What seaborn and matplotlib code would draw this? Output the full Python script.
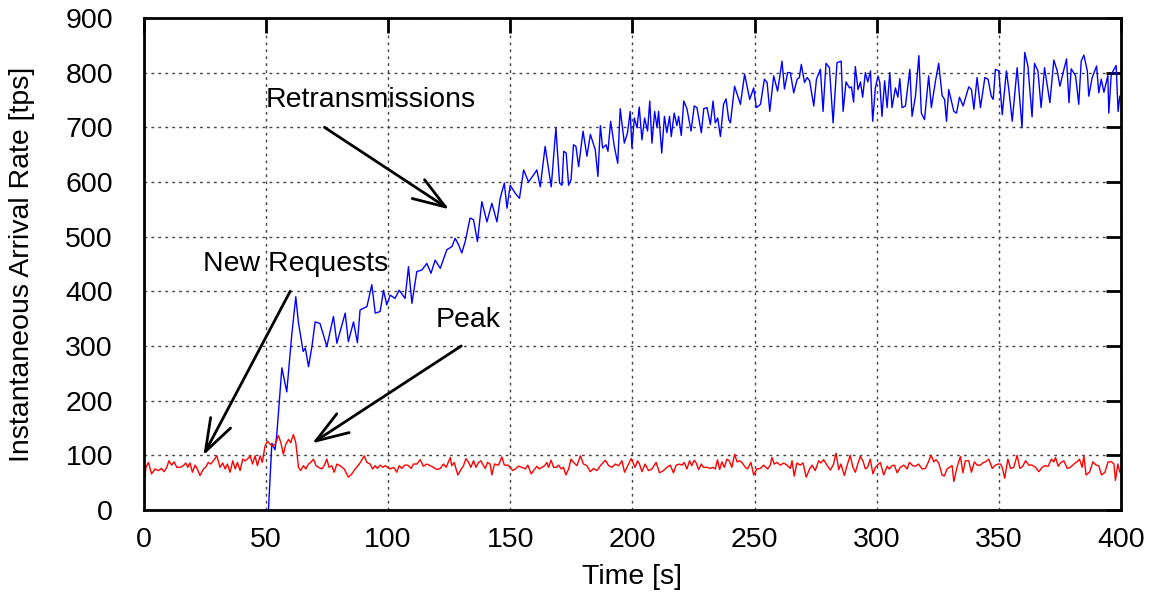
import matplotlib
matplotlib.use("Agg")
import matplotlib.pyplot as plt
import seaborn as sns
import pandas as pd

# ---- data ----
retx_t = [51.1, 52.5, 53.8, 54.5, 56.6, 58.6, 60.7, 62.3, 63.4, 65.3, 66.2, 67.5, 68.9, 70.2,
          72.2, 75.0, 77.7, 79.1, 82.5, 83.8, 85.9, 87.5, 88.6, 91.4, 93.4, 94.8, 96.8, 98.2,
          99.5, 100.9, 102.9, 104.6, 107.0, 108.4, 109.8, 111.8, 113.9, 115.9, 117.6, 119.3,
          121.4, 124.1, 126.2, 127.5, 128.9, 130.2, 131.6, 133.6, 135.0, 136.6, 138.4, 140.5,
          142.5, 144.6, 145.9, 147.6, 148.7, 150.0, 152.1, 153.8, 155.5, 157.5, 159.6, 160.9,
          162.3, 164.3, 166.8, 168.7, 170.2, 171.2, 171.9, 172.9, 173.9, 174.9, 175.9, 176.9,
          178.0, 179.8, 181.4, 182.8, 184.8, 185.9, 186.9, 187.8, 189.2, 190.0, 191.1, 192.6,
          194.0, 195.0, 196.7, 198.0, 199.1, 199.8, 200.8, 201.9, 202.8, 203.9, 205.0, 206.2,
          207.1, 208.0, 209.1, 210.1, 210.7, 212.0, 213.1, 214.1, 215.2, 215.9, 217.1, 218.2,
          218.9, 220.0, 221.0, 222.3, 224.0, 225.3, 226.4, 228.2, 229.2, 230.5, 231.9, 233.0,
          233.9, 234.9, 236.0, 237.3, 238.3, 239.4, 240.1, 241.8, 244.2, 245.9, 248.0, 249.6,
          250.7, 252.4, 254.0, 255.1, 256.2, 257.8, 259.4, 261.2, 262.2, 263.5, 264.6, 266.0,
          267.4, 268.3, 269.1, 270.4, 271.5, 272.5, 274.2, 275.3,
          276.9, 278.0, 279.2, 280.6, 282.1, 283.7, 285.4, 286.2, 287.4, 288.8, 289.6, 290.5,
          291.2, 292.3, 293.3, 294.2, 295.3, 296.3, 297.4, 298.3, 299.4, 300.5, 301.2, 302.1,
          303.2, 304.2, 305.3, 306.2, 307.6, 308.6, 309.4, 310.3, 311.7, 313.5, 314.4, 315.8,
          317.2, 318.2, 319.5, 321.2, 322.3, 324.0, 325.3, 326.7, 327.7, 328.5, 329.4, 331.5,
          332.6, 333.8, 335.3, 337.6, 338.7, 339.7, 341.0, 342.4, 344.2, 345.5, 346.8, 347.6,
          348.5, 349.9, 351.3, 353.0, 354.0, 355.4, 357.4, 359.4, 360.5, 361.8, 363.5, 364.5,
          365.9, 367.2, 368.6, 370.8, 372.4, 373.8, 374.9, 376.2, 377.6, 378.6, 379.5, 381.3,
          382.6, 383.6, 384.7, 386.1, 386.7, 388.1, 389.9, 390.8, 391.8, 392.9, 394.5, 394.9,
          395.9, 397.0, 397.9, 398.7, 399.4, 400.0]
retx_v = [0, 122, 110, 137, 260, 216, 323, 390, 342, 290, 296, 262, 299, 344,
          341, 299, 354, 305, 360, 308, 344, 306, 366, 372, 412, 360, 363, 402,
          375, 393, 387, 402, 387, 445, 378, 436, 439, 451, 433, 457,
          442, 476, 482, 497, 485, 470, 491, 534, 531, 491, 564, 527,
          561, 527, 570, 598, 552, 594, 579, 570, 622, 600, 613, 622,
          591, 665, 591, 699, 598, 594, 656, 653, 594, 604, 668, 665,
          628, 693, 647, 687, 659, 610, 703, 662, 668, 656, 711, 665,
          634, 734, 671, 690, 729, 662, 717, 699, 737, 677, 717, 693,
          748, 671, 729, 699, 729, 653, 720, 690, 720, 683, 726, 703,
          720, 685, 748, 734, 693, 739, 736, 690, 734, 736, 705, 748,
          708, 717, 683, 742, 752, 714, 708, 775, 742, 797, 751, 772,
          736, 742, 788, 782, 729, 794, 766, 821, 770, 800, 800, 763,
          788, 791, 815, 782, 791, 785, 739, 788,
          806, 729, 817, 809, 708, 818, 821, 729, 783, 772, 774, 746,
          811, 769, 783, 755, 800, 783, 803, 711, 772, 794, 782, 720,
          785, 736, 800, 736, 772, 755, 789, 736, 739, 806, 720, 757,
          831, 726, 714, 794, 736, 785, 817, 758, 751, 711, 769, 729,
          726, 755, 739, 774, 769, 733, 791, 736, 791, 788, 757, 751,
          806, 803, 723, 803, 769, 711, 809, 699, 837, 812, 719, 817,
          803, 736, 809, 745, 823, 803, 775, 800, 825, 745, 807, 794,
          742, 821, 832, 803, 757, 791, 812, 763, 788, 764, 795, 726,
          797, 806, 813, 729, 757, 757]

new_t = [0.0, 1.0, 2.0, 3.3, 4.7, 6.1, 7.4, 8.4, 9.5, 10.4, 11.5, 12.5, 13.6, 15.0, 16.3,
         17.3, 18.1, 19.0, 20.0, 21.1, 22.0, 23.1, 24.5, 25.4, 26.5, 27.5, 28.6, 30.0, 31.3,
         32.4, 33.4, 34.3, 35.4, 36.5, 37.5, 38.4, 39.5, 40.6, 41.5, 42.5, 43.6, 44.6, 45.6,
         46.6, 47.7, 48.6, 49.7, 50.7, 51.8, 52.7, 53.8, 55.2, 56.2, 57.2, 58.2, 59.3, 60.2,
         61.3, 62.3, 63.4, 64.3, 65.4, 66.4, 67.5, 68.4, 69.5, 70.6, 71.6, 72.9, 73.9, 75.0,
         75.9, 77.0, 78.0, 79.1, 80.4, 82.1, 83.8, 85.2, 86.6, 88.3, 90.3, 91.4, 92.7, 93.7,
         94.8, 95.7, 96.8, 97.9, 98.9,
         100.9, 102.3, 103.6, 104.6, 105.7, 106.8, 108.1, 109.5, 110.4, 111.8, 113.2, 114.5,
         115.9, 117.3, 118.6, 120.0, 121.4, 122.7, 123.8, 125.5, 126.1, 127.1, 128.6, 130.0,
         130.9, 131.9, 133.0, 133.9, 135.0, 136.0, 137.1, 138.0, 139.1, 139.8, 140.7, 141.8,
         142.5, 143.6, 145.2, 146.6, 147.6, 149.1, 150.0, 151.0, 152.1, 153.4, 154.8, 156.2,
         157.2, 158.6, 159.6, 160.9, 161.9, 163.0, 164.1, 165.0, 165.7, 166.7, 167.8, 168.8,
         169.8, 170.9, 171.8, 172.8, 173.9, 174.9, 175.9, 177.3, 178.7, 180.0, 181.4, 182.8,
         184.1, 185.5, 186.9, 188.9, 190.3, 191.6, 193.0, 194.4, 195.7, 196.8, 198.2, 199.5,
         201.1, 202.1, 202.9, 203.9, 205.2, 206.6, 208.0, 209.7, 211.1, 212.7, 214.1, 215.5,
         216.8, 217.9, 219.3, 220.3, 221.2, 222.3, 223.4, 224.3, 225.3, 226.1, 227.1, 228.2,
         229.1, 230.5, 231.9, 232.9, 233.9, 234.8, 235.7, 236.6, 237.6, 238.7, 239.6, 240.7,
         241.8, 242.8, 243.9, 244.8, 246.2, 247.1, 248.5, 249.6, 250.9, 252.3, 253.7, 255.3,
         256.4, 257.1, 258.0, 259.1, 260.5, 261.9, 263.2, 264.6, 265.3, 266.2, 267.3, 268.7,
         269.8, 271.1, 272.5, 273.5, 274.8, 276.2, 277.1, 278.2, 279.6, 281.0, 282.3, 283.3,
         284.4, 285.3, 286.7, 287.8, 289.1, 290.2, 291.2, 292.2, 293.2, 294.3, 295.3, 296.2,
         297.3, 298.4, 299.4,
         301.4, 302.8, 304.2, 305.1, 306.2, 307.2, 308.3, 309.6, 311.0, 312.4, 313.3, 314.7,
         315.8, 317.1, 318.5, 319.9, 321.0, 322.2, 323.3, 324.2, 325.3, 326.7, 327.6, 328.7,
         329.7, 330.8, 331.5, 332.8, 334.2, 335.2, 336.2, 337.6, 338.7, 339.9, 341.0, 342.4,
         343.3, 344.4, 345.8, 347.2, 348.5, 349.6, 350.6, 351.3, 352.3, 353.6, 354.7, 356.0,
         357.4, 358.5, 359.7, 360.8, 362.2, 363.5, 364.9, 366.3, 367.6, 368.7, 370.1, 371.4,
         372.4, 373.1, 374.2, 375.1, 376.5, 377.9, 379.2, 380.6, 381.9, 382.9, 384.0, 384.7,
         385.6, 387.0, 388.4, 389.7, 390.8, 391.9, 393.3, 394.6, 396.0, 397.0, 397.6, 398.6,
         399.4, 400.0]
new_v = [36, 78, 87, 66, 75, 72, 76, 70, 78, 90, 82, 88, 78, 78, 81,
         86, 78, 86, 69, 82, 75, 63, 75, 78, 87, 84, 90, 99, 78,
         86, 75, 84, 69, 90, 75, 87, 72, 93, 90, 93, 99, 84, 99,
         81, 99, 87, 117, 126, 120, 117, 120, 136, 123, 102, 120, 129, 123,
         138, 123, 78, 72, 81, 75, 84, 87, 93, 81, 78, 75, 81, 93,
         78, 81, 69, 84, 81, 75, 60, 66, 75, 84, 99, 87, 84, 75,
         81, 76, 82, 78, 81,
         75, 78, 69, 81, 76, 82, 82, 76, 84, 84, 92, 80,
         84, 81, 78, 74, 76, 84, 78, 96, 81, 87, 64, 75,
         81, 94, 87, 78, 90, 78, 87, 90, 81, 76, 87, 84,
         64, 84, 82, 97, 82, 82, 78, 72, 75, 80, 78, 75,
         82, 66, 72, 80, 75, 78, 81, 87, 78, 91, 78, 78,
         82, 75, 78, 64, 75, 93, 87, 81, 99, 84, 81, 70,
         76, 72, 81, 91, 81, 78, 84, 81, 90, 69, 82, 94,
         78, 90, 84, 70, 84, 72, 75, 87, 68, 72, 78, 82,
         68, 82, 84, 82, 87, 75, 90, 81, 91, 86, 74, 84,
         78, 78, 76, 78, 75, 92, 74, 88, 78, 93, 90, 78,
         102, 88, 90, 87, 78, 75, 87, 64, 75, 76, 82, 75,
         82, 96, 84, 87, 82, 86, 82, 76, 90, 62, 86, 82,
         86, 60, 75, 82, 72, 90, 86, 92, 82, 73, 84, 104,
         74, 84, 63, 81, 100, 78, 69, 84, 98, 90, 75, 78,
         93, 66, 78,
         87, 64, 80, 75, 81, 82, 68, 78, 82, 75, 87, 81,
         80, 84, 75, 76, 87, 100, 88, 92, 86, 64, 62, 75,
         78, 81, 52, 78, 98, 68, 90, 90, 69, 88, 82, 82,
         86, 88, 93, 76, 82, 84, 84, 78, 58, 93, 76, 78,
         100, 76, 80, 90, 82, 82, 78, 70, 78, 81, 80, 93,
         88, 96, 80, 86, 90, 76, 78, 84, 88, 93, 78, 99,
         64, 69, 88, 82, 81, 64, 69, 88, 88, 84, 54, 84,
         69, 70]

x_ticks = [0, 50, 100, 150, 200, 250, 300, 350, 400]
y_ticks = [0, 100, 200, 300, 400, 500, 600, 700, 800, 900]

retx = pd.DataFrame({"t": retx_t, "v": retx_v})
new = pd.DataFrame({"t": new_t, "v": new_v})

sns.set_style("white")
plt.rcParams["font.family"] = ["Liberation Sans", "DejaVu Sans"]
plt.rcParams["text.color"] = "black"
plt.rcParams["axes.labelcolor"] = "black"
plt.rcParams["xtick.color"] = "black"
plt.rcParams["ytick.color"] = "black"

FS = 20.5

fig = plt.figure(figsize=(11.64, 5.98), dpi=100)
ax = fig.add_axes([0.1233, 0.1472, 0.8400, 0.8228])

sns.lineplot(data=retx, x="t", y="v", ax=ax, color="#0000ff", linewidth=1.0,
             estimator=None, sort=False)
sns.lineplot(data=new, x="t", y="v", ax=ax, color="#ff0000", linewidth=1.0,
             estimator=None, sort=False)

ax.set_xlim(0, 400)
ax.set_ylim(0, 900)
ax.set_xticks(x_ticks)
ax.set_yticks(y_ticks)
ax.tick_params(axis="both", which="major", labelsize=FS, direction="in",
               length=11, width=2, top=True, right=True, color="black")
ax.tick_params(axis="y", pad=22)
ax.tick_params(axis="x", pad=12)
ax.grid(True, linestyle=(0, (2, 3)), color="#444444", linewidth=1.0)
for s in ax.spines.values():
    s.set_visible(True)
    s.set_color("black")
    s.set_linewidth(2)

ax.set_xlabel("Time [s]", fontsize=FS, labelpad=8)
ax.set_ylabel("Instantaneous Arrival Rate [tps]", fontsize=FS, labelpad=22)

arrow = dict(arrowstyle="->,head_length=1.3,head_width=0.45", color="black",
             linewidth=2, mutation_scale=18, shrinkA=0, shrinkB=0)
ax.annotate("", xy=(125, 550), xytext=(74, 700), arrowprops=arrow)
ax.text(50, 750, "Retransmissions", fontsize=FS, ha="left", va="center")
ax.annotate("", xy=(24.5, 100), xytext=(60, 400), arrowprops=arrow)
ax.text(24.5, 450, "New Requests", fontsize=FS, ha="left", va="center")
ax.annotate("", xy=(69, 122), xytext=(130, 300), arrowprops=arrow)
ax.text(119.5, 348, "Peak", fontsize=FS, ha="left", va="center")

fig.savefig("out.png", dpi=100)
